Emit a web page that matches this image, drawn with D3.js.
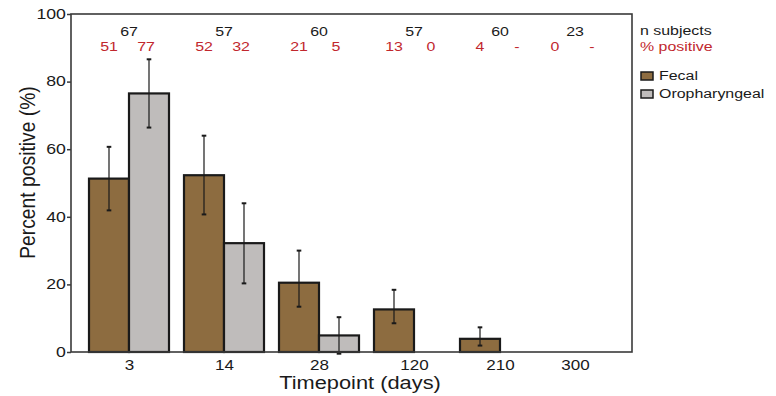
<!DOCTYPE html>
<html>
<head>
<meta charset="utf-8">
<script src="https://cdn.jsdelivr.net/npm/d3@7"></script>
<style>
  body { margin: 0; background: #fff; }
  text { font-family: "Liberation Sans", Arial, sans-serif; }
</style>
</head>
<body>
<div id="chart"></div>
<script>
// data
var timepoints = ["3", "14", "28", "120", "210", "300"];
var nSubjects = [67, 57, 60, 57, 60, 23];
var fecal = [51.3, 52.3, 20.5, 12.6, 3.9, 0];
var fecalLo = [41.9, 40.7, 13.4, 8.5, 1.9, null];
var fecalHi = [60.7, 64.0, 30.0, 18.4, 7.3, null];
var oro = [76.5, 32.2, 4.9, 0, null, 0];
var oroLo = [66.4, 20.3, -0.5, null, null, null];
var oroHi = [86.6, 44.0, 10.3, null, null, null];
var fecalLabel = ["51", "52", "21", "13", "4", "0"];
var oroLabel = ["77", "32", "5", "0", "-", "-"];
var yTicks = [0, 20, 40, 60, 80, 100];

var width = 776, height = 396;
var plotL = 71, plotR = 632, plotT = 14, plotB = 352;
var barW = 40;
var sx = 1.18;   // the original figure is stretched sideways a bit
var ink = "#1a1a1a", red = "#c1272d";

var svg = d3.select("#chart").append("svg")
  .attr("width", width).attr("height", height);

// text helper: places a horizontally stretched label
function label(sel, xx, yy, size, color, anchor) {
  return sel.append("text")
    .attr("transform", "translate(" + xx + "," + yy + ") scale(" + sx + ",1)")
    .attr("text-anchor", anchor || "start")
    .attr("font-size", size)
    .attr("fill", color || ink);
}

// group centres are not evenly spaced in the original
var x = d3.scaleOrdinal()
  .domain(timepoints)
  .range([129, 224, 319, 414, 500, 575]);

var y = d3.scaleLinear().domain([0, 100]).range([plotB, plotT]);

var series = [
  {name: "Fecal", vals: fecal, lo: fecalLo, hi: fecalHi, color: "#8d6c40", off: -barW},
  {name: "Oropharyngeal", vals: oro, lo: oroLo, hi: oroHi, color: "#bfbcbb", off: 0}
];

// bars
series.forEach(function(s) {
  var rows = timepoints.map(function(t, i) {
    return {t: t, v: s.vals[i], lo: s.lo[i], hi: s.hi[i]};
  });

  svg.append("g").selectAll("rect")
    .data(rows.filter(function(d) { return d.v != null; }))
    .enter()
    .append("rect")
    .attr("x", function(d) { return x(d.t) + s.off; })
    .attr("y", function(d) { return y(d.v); })
    .attr("width", barW)
    .attr("height", function(d) { return y(0) - y(d.v); })
    .attr("fill", s.color)
    .attr("stroke", ink)
    .attr("stroke-width", 2.2);

  var eb = svg.append("g").selectAll("g")
    .data(rows.filter(function(d) { return d.lo != null; }))
    .enter()
    .append("g")
    .attr("stroke", ink)
    .attr("stroke-width", 1.2);
  var cx = function(d) { return x(d.t) + s.off + barW / 2; };
  eb.append("line")
    .attr("x1", cx).attr("x2", cx)
    .attr("y1", function(d) { return y(d.lo); })
    .attr("y2", function(d) { return y(d.hi); });
  ["lo", "hi"].forEach(function(k) {
    eb.append("line")
      .attr("x1", function(d) { return cx(d) - 2.3; })
      .attr("x2", function(d) { return cx(d) + 2.3; })
      .attr("y1", function(d) { return y(d[k]); })
      .attr("y2", function(d) { return y(d[k]); })
      .attr("stroke-width", 2);
  });
});

// frame
svg.append("rect")
  .attr("x", plotL).attr("y", plotT)
  .attr("width", plotR - plotL).attr("height", plotB - plotT)
  .attr("fill", "none")
  .attr("stroke", "#3a3a3a")
  .attr("stroke-width", 1.6);

// y axis
var yAxis = svg.append("g")
  .attr("transform", "translate(" + plotL + ",0)")
  .call(d3.axisLeft(y).tickValues(yTicks).tickSize(4).tickPadding(0.5));
yAxis.select(".domain").remove();
yAxis.selectAll("line").attr("stroke", "#3a3a3a").attr("stroke-width", 1.5);
yAxis.selectAll("text")
  .attr("font-size", 15.5).attr("fill", ink)
  .attr("font-family", "Liberation Sans, Arial, sans-serif")
  .attr("dy", "0.28em")
  .attr("transform", "scale(1.14,1)");

// x axis
var xAxis = svg.append("g")
  .attr("transform", "translate(0," + plotB + ")")
  .call(d3.axisBottom(x).tickSize(0).tickPadding(7));
xAxis.select(".domain").remove();
xAxis.selectAll("text")
  .attr("font-size", 15.5).attr("fill", ink)
  .attr("font-family", "Liberation Sans, Arial, sans-serif")
  .attr("transform", "scale(1.1,1)");

// axis titles
label(svg, 360, 389, 18.5, ink, "middle").text("Timepoint (days)");

svg.append("text")
  .attr("transform", "translate(35,172.5) rotate(-90) scale(1," + sx + ")")
  .attr("text-anchor", "middle")
  .attr("font-size", 19.3)
  .attr("fill", ink)
  .text("Percent positive (%)");

// n subjects and % positive
timepoints.forEach(function(t, i) {
  label(svg, x(t), 36, 13.5, ink, "middle").text(nSubjects[i]);
  label(svg, x(t) - 20, 51, 13.5, red, "middle").text(fecalLabel[i]);
  label(svg, x(t) + 17, 51, 13.5, red, "middle").text(oroLabel[i]);
});

// legend
label(svg, 640, 35, 13.5, ink).text("n subjects");
label(svg, 640, 50.5, 13.5, red).text("% positive");

series.forEach(function(s, i) {
  var yy = 72 + i * 18;
  svg.append("rect")
    .attr("x", 641).attr("y", yy)
    .attr("width", 12).attr("height", 8)
    .attr("fill", s.color)
    .attr("stroke", ink)
    .attr("stroke-width", 1.5);
  label(svg, 659, yy + 8, 13.5, ink).text(s.name);
});
</script>
</body>
</html>
